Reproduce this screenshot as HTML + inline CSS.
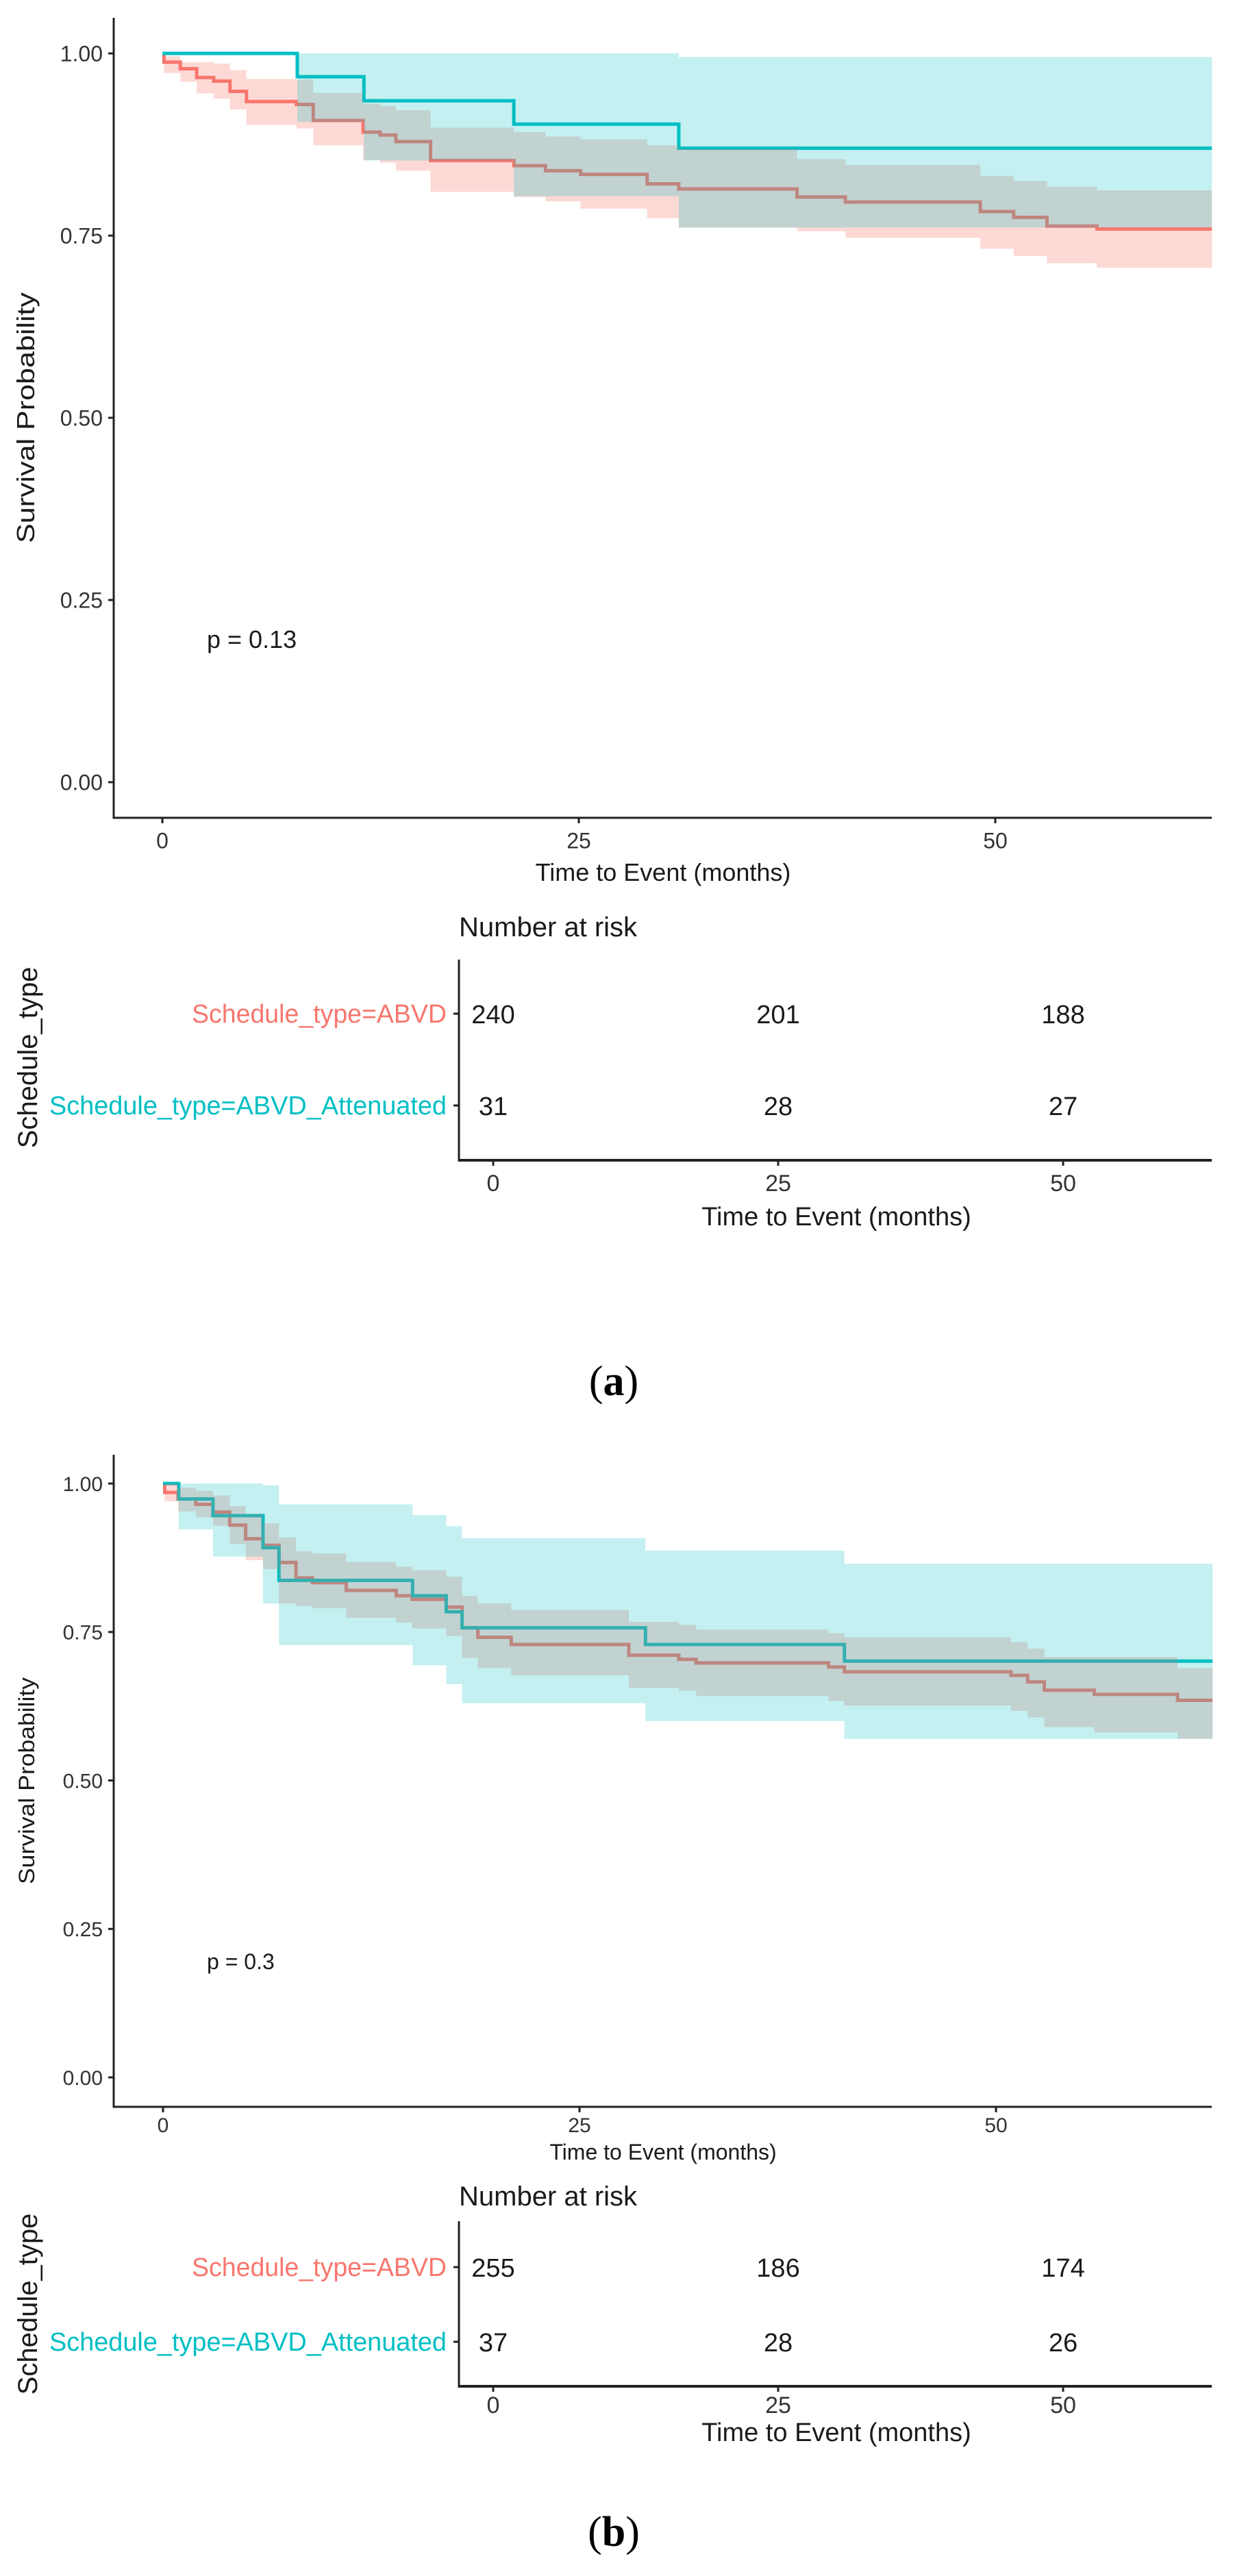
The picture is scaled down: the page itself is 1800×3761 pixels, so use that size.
<!DOCTYPE html>
<html><head><meta charset="utf-8"><style>
html,body{margin:0;padding:0;background:#fff}
svg{display:block}
text{font-family:"Liberation Sans",sans-serif}
</style></head><body>
<svg id="fig" width="1800" height="3761" viewBox="0 0 1800 3761" xmlns="http://www.w3.org/2000/svg"></svg>
<script>
// ---------- Panel A data ----------
const aRedTimes=[0,0.1,1.08,2.06,3.08,4.06,5.05,8.04,9.06,12.05,13.07,14.02,16.1,21.1,23.0,25.1,29.1,31.0,38.1,41.0,49.1,51.1,53.1,56.1];
const aRedSurv=[1.0,.988,.979,.967,.962,.948,.934,.930,.908,.892,.888,.879,.853,.846,.839,.834,.821,.814,.803,.796,.783,.775,.763,.759];
const aRedUpper=[1.0,.996,.988,.988,.986,.977,.965,.964,.946,.931,.928,.922,.898,.892,.886,.882,.874,.869,.855,.847,.832,.825,.817,.812];
const aRedLower=[1.0,.973,.961,.945,.938,.923,.902,.897,.874,.854,.850,.839,.810,.803,.797,.787,.774,.761,.756,.747,.732,.722,.712,.706];
const aCyanTimes=[0,8.1,12.1,21.1,31.0];
const aCyanSurv=[1,.968,.935,.903,.870];
const aCyanUpper=[1,1,1,1,.995];
const aCyanLower=[1,.906,.853,.804,.761];
const aRiskTimes=[0,25,50];
const aRiskABVD=[240,201,188];
const aRiskAtt=[31,28,27];
const aPValue="p = 0.13";
// ---------- Panel B data ----------
const bRedTimes=[0,0.1,0.9,1.97,3.0,4.0,4.96,6.0,6.96,7.98,8.97,11.0,14.0,14.95,17.0,17.95,18.9,20.9,27.96,30.96,32.0,39.95,40.9,50.9,51.9,52.9,55.9,60.9];
const bRedSurv=[1,.985,.974,.965,.952,.930,.907,.896,.867,.841,.833,.820,.811,.805,.792,.757,.741,.729,.711,.704,.698,.691,.683,.677,.666,.652,.645,.635];
const bRedUpper=[1,1,.993,.988,.980,.962,.949,.933,.909,.886,.882,.868,.860,.854,.843,.811,.798,.787,.767,.762,.754,.748,.741,.733,.722,.708,.708,.689];
const bRedLower=[1,.97,.953,.943,.929,.898,.871,.856,.798,.794,.790,.774,.766,.756,.743,.706,.689,.677,.656,.651,.642,.634,.626,.617,.606,.590,.581,.570];
const bCyanTimes=[0,0.94,3.0,6.0,6.96,14.98,17.0,17.95,28.96,40.9];
const bCyanSurv=[1,.974,.946,.892,.837,.811,.784,.757,.729,.701];
const bCyanUpper=[1,1,1,.997,.965,.947,.928,.908,.887,.865];
const bCyanLower=[1,.923,.877,.798,.728,.694,.662,.630,.600,.570];
const bRiskTimes=[0,25,50];
const bRiskABVD=[255,186,174];
const bRiskAtt=[37,28,26];
const bPValue="p = 0.3";
const yTickVals=[0,0.25,0.5,0.75,1];
const yTickLabels=["0.00","0.25","0.50","0.75","1.00"];
const xTickVals=[0,25,50];
const tMax=63;

const NS="http://www.w3.org/2000/svg";
const svg=document.getElementById('fig');
function mk(tag,attrs,parent){const e=document.createElementNS(NS,tag);for(const k in attrs)e.setAttribute(k,attrs[k]);(parent||svg).appendChild(e);return e;}
function txt(s,attrs,parent){if(!('fill' in attrs))attrs.fill='#1a1a1a';const e=mk('text',attrs,parent);e.textContent=s;return e;}

function stepPath(times,vals,X,Y){
  let d='M'+X(times[0])+','+Y(vals[0]);
  for(let i=1;i<times.length;i++){d+=' H'+X(times[i])+' V'+Y(vals[i]);}
  d+=' H'+X(tMax);return d;
}
function ribbon(times,up,lo,X,Y){
  let pts=[];
  for(let i=0;i<times.length;i++){const t1=i+1<times.length?times[i+1]:tMax;pts.push([X(times[i]),Y(up[i])],[X(t1),Y(up[i])]);}
  for(let i=times.length-1;i>=0;i--){const t1=i+1<times.length?times[i+1]:tMax;pts.push([X(t1),Y(lo[i])],[X(times[i]),Y(lo[i])]);}
  return pts.map(p=>p.join(',')).join(' ');
}

function panel(cfg){
  const g=mk('g',{});
  
  
  const X=t=>cfg.x0+t*cfg.pxPerMonth;
  const Y=s=>cfg.y0-s*cfg.yspan;
  const axisL=166, axisR=1769;
  const rl=mk('path',{d:stepPath(cfg.redT,cfg.redS,X,Y),fill:'none',stroke:'#F8766D','stroke-width':5},g);
  
  
  const cl=mk('path',{d:stepPath(cfg.cyT,cfg.cyS,X,Y),fill:'none',stroke:'#00BFC4','stroke-width':5},g);
  
  
  const rr=mk('polygon',{points:ribbon(cfg.redT,cfg.redU,cfg.redL,X,Y),fill:'#F8766D','fill-opacity':0.28},g);
  
  
  const cr=mk('polygon',{points:ribbon(cfg.cyT,cfg.cyU,cfg.cyL,X,Y),fill:'#00BFC4','fill-opacity':0.23},g);
  
  
  const ya=mk('line',{x1:axisL,y1:cfg.axisTop,x2:axisL,y2:cfg.axisBottom,stroke:'#222','stroke-width':3},g);
  
  
  const xa=mk('line',{x1:axisL-1.5,y1:cfg.axisBottom,x2:axisR,y2:cfg.axisBottom,stroke:'#222','stroke-width':3},g);
  
  
  yTickVals.forEach((v,i)=>{
    mk('line',{x1:axisL-8,y1:Y(v),x2:axisL,y2:Y(v),stroke:'#222','stroke-width':3},g);
    const t=txt(yTickLabels[i],{x:150,y:Y(v)+cfg.tickFs*0.36,'text-anchor':'end','font-size':cfg.tickFs,fill:'#333'},g);
    
    
  });
  xTickVals.forEach(v=>{
    mk('line',{x1:X(v),y1:cfg.axisBottom,x2:X(v),y2:cfg.axisBottom+8,stroke:'#222','stroke-width':3},g);
    const t=txt(String(v),{x:X(v),y:cfg.xTickY+cfg.tickFs*0.36,'text-anchor':'middle','font-size':cfg.tickFs,fill:'#333'},g);
    
    
  });
  const xt=txt('Time to Event (months)',{x:968,y:cfg.xTitleY+12,'text-anchor':'middle','font-size':cfg.titleFs},g);
  
  
  const yt=txt('Survival Probability',{x:0,y:0,'text-anchor':'middle','font-size':cfg.titleFs,textLength:cfg.yTitleLen,lengthAdjust:'spacingAndGlyphs',transform:'translate('+(cfg.yTitleX)+','+cfg.yTitleY+') rotate(-90)'},g);
  
  
  const pv=txt(cfg.p,{x:302,y:cfg.pY+12,'font-size':cfg.pFs},g);
  
  

  const rg=mk('g',{});
  
  
  const RX=t=>720+t*16.64;
  const nt=txt('Number at risk',{x:670,y:cfg.riskTitleY+14,'font-size':40},rg);
  
  
  mk('line',{x1:670,y1:cfg.rTop,x2:670,y2:cfg.rBottom,stroke:'#222','stroke-width':3},rg);
  mk('line',{x1:668.5,y1:cfg.rBottom,x2:1769,y2:cfg.rBottom,stroke:'#222','stroke-width':4},rg);
  [[cfg.row1,'Schedule_type=ABVD','#F8766D',cfg.riskA,372],[cfg.row2,'Schedule_type=ABVD_Attenuated','#00BFC4',cfg.riskB,580]].forEach(r=>{
    mk('line',{x1:662,y1:r[0],x2:670,y2:r[0],stroke:'#222','stroke-width':3},rg);
    const l=txt(r[1],{x:652,y:r[0]+13,'text-anchor':'end','font-size':38,fill:r[2],textLength:r[4],lengthAdjust:'spacingAndGlyphs'},rg);
    
    
    cfg.riskT.forEach((t,i)=>{
      const n=txt(String(r[3][i]),{x:RX(t),y:r[0]+14,'text-anchor':'middle','font-size':38},rg);
      
      
    });
  });
  cfg.riskT.forEach(t=>{
    mk('line',{x1:RX(t),y1:cfg.rBottom,x2:RX(t),y2:cfg.rBottom+8,stroke:'#222','stroke-width':3},rg);
    const tl=txt(String(t),{x:RX(t),y:cfg.rTickY+12,'text-anchor':'middle','font-size':34,fill:'#333'},rg);
    
    
  });
  const rxt=txt('Time to Event (months)',{x:1221,y:cfg.rXTitleY+13,'text-anchor':'middle','font-size':38},rg);
  
  
  const st=txt('Schedule_type',{x:0,y:0,'text-anchor':'middle','font-size':40,transform:'translate(54,'+cfg.stY+') rotate(-90)'},rg);
  
  

  const cap=mk('text',{x:896,y:cfg.capY+20,'text-anchor':'middle','font-size':62,fill:'#000',style:'font-family:"Liberation Serif",serif'});
  
  
  cap.innerHTML='(<tspan font-weight="bold">'+cfg.letter+'</tspan>)';
}

panel({name:'panel-a',letter:'a',x0:237,pxPerMonth:24.32,y0:1142,yspan:1064,axisTop:26,axisBottom:1194,xTickY:1227,xTitleY:1274,
  tickFs:32,titleFs:36,yTitleX:50,yTitleY:610,yTitleLen:366,p:aPValue,pY:934,pFs:36,
  redT:aRedTimes,redS:aRedSurv,redU:aRedUpper,redL:aRedLower,cyT:aCyanTimes,cyS:aCyanSurv,cyU:aCyanUpper,cyL:aCyanLower,
  riskT:aRiskTimes,riskA:aRiskABVD,riskB:aRiskAtt,riskTitleY:1353,rTop:1401,rBottom:1694,row1:1480,row2:1614,rTickY:1727,rXTitleY:1776,stY:1544,capY:2017});
panel({name:'panel-b',letter:'b',x0:238,pxPerMonth:24.32,y0:3033,yspan:867,axisTop:2124,axisBottom:3076,xTickY:3102,xTitleY:3141,
  tickFs:30,titleFs:32,yTitleX:50,yTitleY:2600,yTitleLen:302,p:bPValue,pY:2863,pFs:32,
  redT:bRedTimes,redS:bRedSurv,redU:bRedUpper,redL:bRedLower,cyT:bCyanTimes,cyS:bCyanSurv,cyU:bCyanUpper,cyL:bCyanLower,
  riskT:bRiskTimes,riskA:bRiskABVD,riskB:bRiskAtt,riskTitleY:3206,rTop:3243,rBottom:3484,row1:3310,row2:3419,rTickY:3511,rXTitleY:3551,stY:3364,capY:3697});
</script>
</body></html>
